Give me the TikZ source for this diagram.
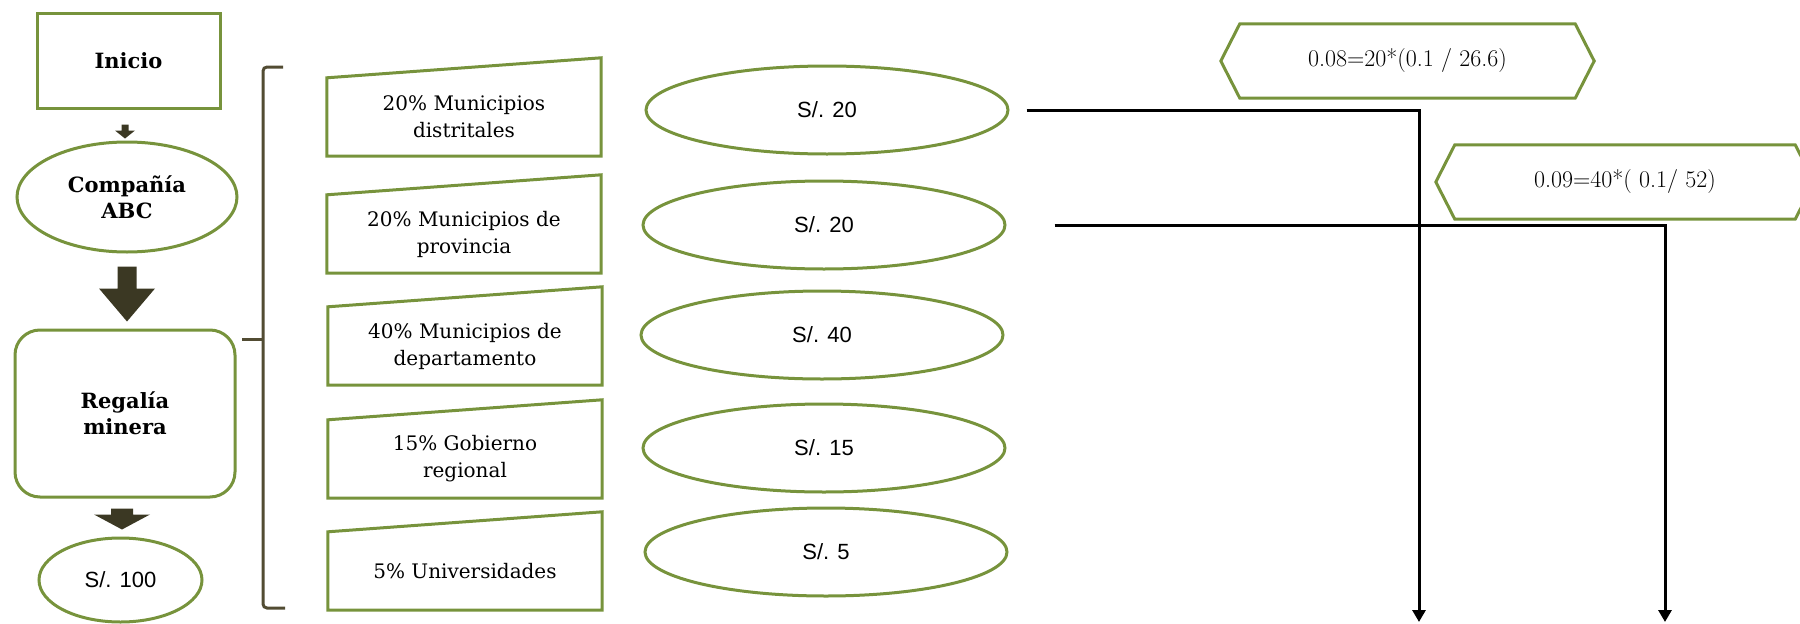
\documentclass[tikz,border=0pt]{standalone}
\usepackage{fontspec}
\usetikzlibrary{calc,arrows.meta,shapes.geometric}
\newfontfamily\slabf{DejaVu Serif}
\newfontfamily\sansf{Liberation Sans}
\definecolor{grn}{HTML}{77933C}
\definecolor{darkarr}{HTML}{3B3823}
\definecolor{brk}{HTML}{524C33}
\newcommand\myblockarrow[5]{%
  \fill[darkarr] let \p1=(#1), \p2=(#2) in
   (\x1-#3pt,\y1) -- (\x1+#3pt,\y1) -- (\x1+#3pt,\y2+#5pt) -- (\x1+#4pt,\y2+#5pt)
   -- (\x1,\y2) -- (\x1-#4pt,\y2+#5pt) -- (\x1-#3pt,\y2+#5pt) -- cycle;}
\begin{document}
\begin{tikzpicture}[x=1pt,y=-1pt,
  gline/.style={draw=grn, line width=3pt},
  gbox/.style={gline, align=center, inner sep=0pt},
  boldtxt/.style={font=\slabf\bfseries\fontsize{21}{26}\selectfont},
  sanstxt/.style={font=\sansf\fontsize{22}{26}\selectfont},
  inb/.style={rectangle, minimum width=274pt, minimum height=78pt, inner sep=0pt, align=center,
    font=\slabf\fontsize{20}{27}\selectfont},
  oval/.style={gbox, ellipse, minimum width=362pt, minimum height=88pt, sanstxt},
  hexb/.style={rectangle, minimum width=#1, minimum height=74pt, inner sep=0pt,
    font=\fontsize{24}{26}\selectfont},
  conn/.style={draw=black, line width=3pt, -{Triangle[width=13pt,length=12pt]}},
  brkline/.style={draw=brk, line width=3pt, rounded corners=4pt}
]
\useasboundingbox (0,0) rectangle (1800,624);

% left column
\node[gbox, rectangle, minimum width=183pt, minimum height=95pt, boldtxt] (inicio) at (128.5,60.5) {Inicio};
\node[gbox, ellipse, minimum width=220pt, minimum height=110pt, boldtxt] (comp) at (127,197) {Compañía\\ABC};
\node[gbox, rectangle, rounded corners=25pt, minimum width=220pt, minimum height=167pt, boldtxt] (reg) at (125,413.5) {Regalía\\minera};
\node[gbox, ellipse, minimum width=163pt, minimum height=84pt, sanstxt] (s100) at (120.5,580) {S/. 100};

\coordinate (a1s) at ($(inicio.south)+(-3.5,15)$);
\coordinate (a1t) at ($(comp.north)+(-2,-2)$);
\coordinate (a2s) at ($(comp.south)+(0,13)$);
\coordinate (a2t) at ($(reg.north)+(2,-7)$);
\coordinate (a3s) at ($(reg.south)+(-3,10)$);
\coordinate (a3t) at ($(s100.north)+(1.5,-7)$);
\myblockarrow{a1s}{a1t}{3.5}{10}{8}
\myblockarrow{a2s}{a2t}{9.5}{28}{33}
\myblockarrow{a3s}{a3t}{11}{28}{15}

% bracket
\coordinate (brt) at (283,67);
\coordinate (brtc) at (263,67);
\coordinate (brbc) at (263,608);
\coordinate (brb) at (285,608);
\coordinate (brm) at (263,339);
\coordinate (brmt) at (242,339);
\draw[brkline] (brt) -- (brtc) -- (brbc) -- (brb);
\draw[brkline] (brm) -- (brmt);

% manual input boxes
\node[inb] (b1) at (464,117) {20\% Municipios\\distritales};
\node[inb] (b2) at (464,234) {20\% Municipios de\\provincia};
\node[inb] (b3) at (465,346) {40\% Municipios de\\departamento};
\node[inb] (b4) at (465,459) {15\% Gobierno\\regional};
\node[inb] (b5) at (465,571) {5\% Universidades};
\foreach \n in {b1,b2,b3,b4,b5}
  \draw[gline] (\n.south west) -- (\n.south east) -- ($(\n.north east)+(0,-20)$) -- (\n.north west) -- cycle;

% ovals
\node[oval] (e1) at (827,110) {S/. 20};
\node[oval] (e2) at (824,225) {S/. 20};
\node[oval] (e3) at (822,335) {S/. 40};
\node[oval] (e4) at (824,448) {S/. 15};
\node[oval] (e5) at (826,552) {S/. 5};

% hexagons
\node[hexb=335pt] (h1) at (1407.5,61) {0.08=20*(0.1 / 26.6)};
\node[hexb=340pt] (h2) at (1625,182) {0.09=40*( 0.1/ 52)};
\foreach \n in {h1,h2}
  \draw[gline] (\n.north west) -- (\n.north east) -- ($(\n.east)+(19,0)$) -- (\n.south east)
    -- (\n.south west) -- ($(\n.west)+(-19,0)$) -- cycle;

% connectors
\coordinate (c1) at ($(e1.east)+(17,0)$);
\coordinate (c2) at ($(e2.east)+(48,0)$);
\coordinate (d1) at (1419,622);
\coordinate (d2) at (1665,622);
\draw[conn] (c1) -| (d1);
\draw[conn] (c2) -| (d2);
\end{tikzpicture}
\end{document}
